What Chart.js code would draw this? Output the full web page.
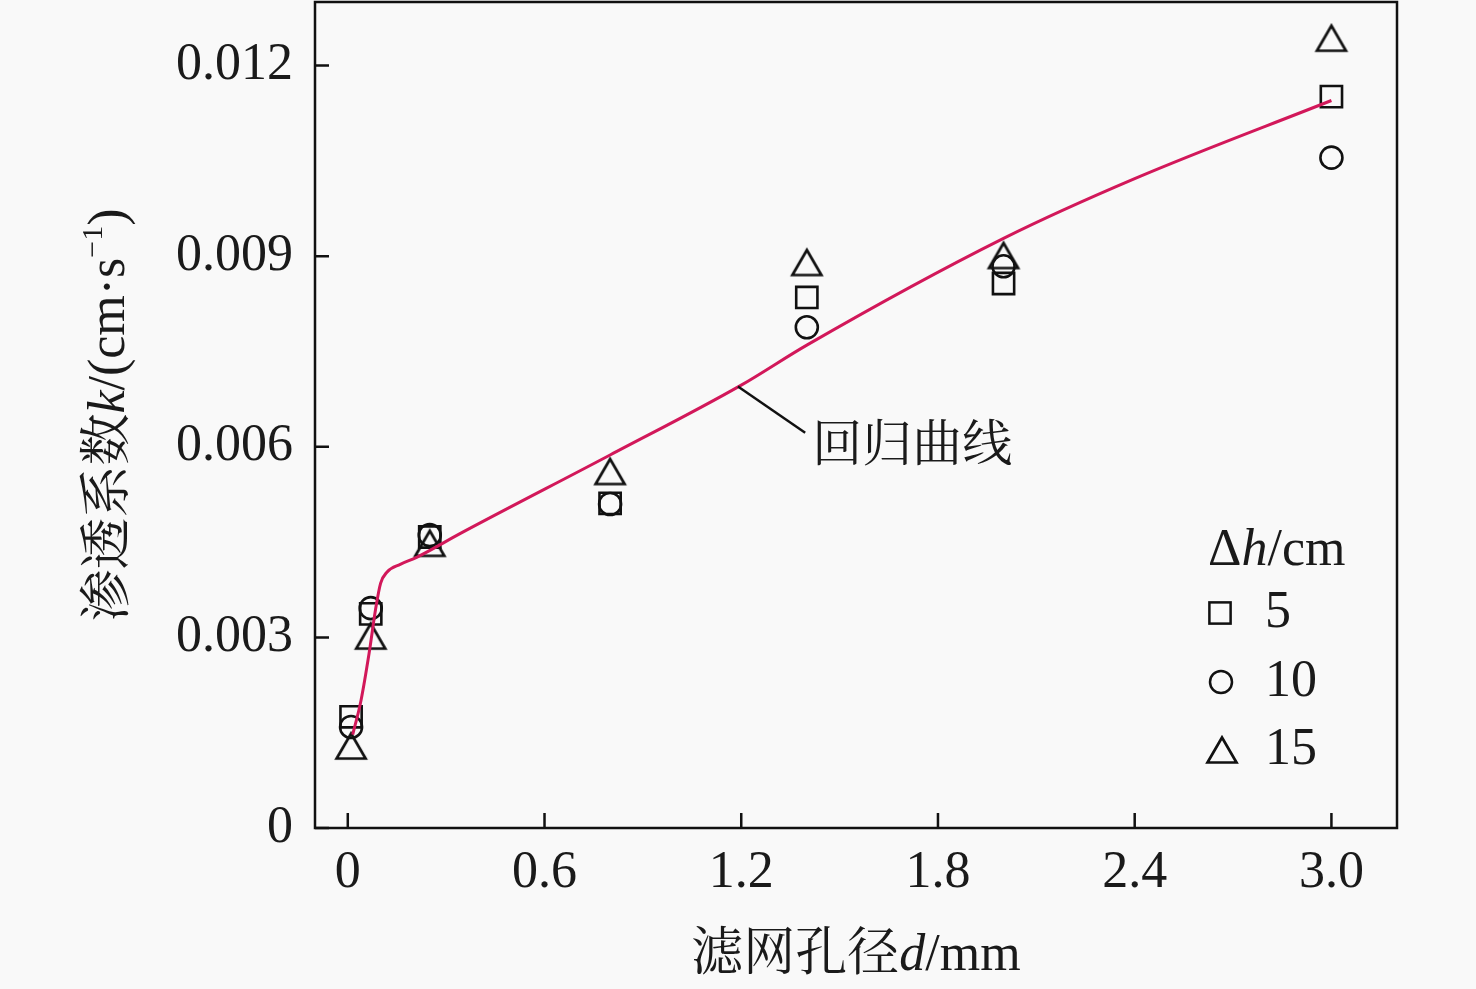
<!DOCTYPE html>
<html><head><meta charset="utf-8">
<script src="https://cdn.jsdelivr.net/npm/chart.js@4.4.1/dist/chart.umd.min.js"></script>
<style>html,body{margin:0;padding:0;background:#f9f9f9;}#wrap{width:1476px;height:989px;}</style>
</head><body><div id="wrap"><canvas id="c" width="1476" height="989"></canvas></div>
<script>
// ---- data ----
const filterD = [0.01, 0.07, 0.25, 0.8, 1.4, 2.0, 3.0];
const k5  = [0.00175, 0.00337, 0.00458, 0.00511, 0.00835, 0.00857, 0.01151];
const k10 = [0.00159, 0.00346, 0.00461, 0.00510, 0.00788, 0.00884, 0.01055];
const k15 = [0.00129, 0.00302, 0.00448, 0.00561, 0.00890, 0.00901, 0.01243];
const fitX = [0.015, 0.04, 0.065, 0.085, 0.10, 0.12, 0.16, 0.21, 0.345, 0.8, 1.2, 1.4, 2.0, 2.4, 3.0];
const fitY = [0.00147, 0.00200, 0.00275, 0.00345, 0.00385, 0.00403, 0.00415, 0.00426, 0.00464, 0.00587, 0.00697, 0.00760, 0.00928, 0.01022, 0.01145];
const xTicks = [0, 0.6, 1.2, 1.8, 2.4, 3.0];
const xTickLabels = ['0', '0.6', '1.2', '1.8', '2.4', '3.0'];
const yTicks = [0, 0.003, 0.006, 0.009, 0.012];
const yTickLabels = ['0', '0.003', '0.006', '0.009', '0.012'];
const seriesNames = ['5', '10', '15'];
const fitLabel = '回归曲线';
const annotAnchor = [1.19, 0.00695];
const annotEnd = [1.395, 0.00622];

const SERIF = '"Liberation Serif","Times New Roman",serif';
const CJK = '"Noto Serif CJK SC","Noto Sans CJK SC",sans-serif';
const FS = 52;
const TXT = '#1a1a1a';

function triCanvas() {
  const c = document.createElement('canvas');
  c.width = 40; c.height = 36;
  const g = c.getContext('2d');
  const w = 29, h = 25, cx = 20, cy = 18;
  g.strokeStyle = '#111'; g.lineWidth = 2.7; g.lineJoin = 'miter';
  g.beginPath();
  g.moveTo(cx, cy - h / 2); g.lineTo(cx + w / 2, cy + h / 2); g.lineTo(cx - w / 2, cy + h / 2); g.closePath();
  g.stroke();
  return c;
}
const TRI = triCanvas();

const pts = arr => filterD.map((x, i) => ({ x, y: arr[i] }));

function drawSegs(ctx, segs, x, y, align) {
  let total = 0;
  segs.forEach(s => { ctx.font = s.f; s.w = ctx.measureText(s.t).width; total += s.w; });
  let cx = align === 'center' ? x - total / 2 : x;
  ctx.textAlign = 'left';
  segs.forEach(s => { ctx.font = s.f; ctx.fillText(s.t, cx, y + (s.dy || 0)); cx += s.w; });
}

const deco = {
  id: 'deco',
  afterDraw(chart) {
    const { ctx, chartArea: a, scales: { x, y } } = chart;
    ctx.save();
    ctx.strokeStyle = '#111'; ctx.lineWidth = 2.5;
    ctx.strokeRect(a.left, a.top, a.right - a.left, a.bottom - a.top);
    ctx.beginPath();
    xTicks.forEach(v => { const px = x.getPixelForValue(v); ctx.moveTo(px, a.bottom); ctx.lineTo(px, a.bottom - 15); });
    yTicks.forEach(v => { const py = y.getPixelForValue(v); ctx.moveTo(a.left, py); ctx.lineTo(a.left + 14, py); });
    ctx.stroke();

    ctx.fillStyle = TXT; ctx.textBaseline = 'alphabetic';
    // x title
    drawSegs(ctx, [
      { t: '滤网孔径', f: `${FS}px ${CJK}` },
      { t: 'd', f: `italic ${FS}px ${SERIF}` },
      { t: '/mm', f: `${FS}px ${SERIF}` }
    ], (a.left + a.right) / 2, 970, 'center');
    // y title
    ctx.save();
    ctx.translate(124, (a.top + a.bottom) / 2);
    ctx.rotate(-Math.PI / 2);
    drawSegs(ctx, [
      { t: '渗透系数', f: `${FS}px ${CJK}` },
      { t: 'k', f: `italic ${FS}px ${SERIF}` },
      { t: '/(cm·s', f: `${FS}px ${SERIF}` },
      { t: '−1', f: `30px ${SERIF}`, dy: -22 },
      { t: ')', f: `${FS}px ${SERIF}` }
    ], 0, 0, 'center');
    ctx.restore();

    // annotation
    ctx.lineWidth = 2.5;
    ctx.beginPath();
    ctx.moveTo(x.getPixelForValue(annotAnchor[0]), y.getPixelForValue(annotAnchor[1]));
    ctx.lineTo(x.getPixelForValue(annotEnd[0]), y.getPixelForValue(annotEnd[1]));
    ctx.stroke();
    ctx.textBaseline = 'middle';
    ctx.font = `50px ${CJK}`;
    ctx.fillText(fitLabel, x.getPixelForValue(annotEnd[0]) + 7, y.getPixelForValue(annotEnd[1]) + 9);

    // legend
    ctx.textBaseline = 'alphabetic';
    const lx = a.right - 189;
    drawSegs(ctx, [
      { t: 'Δ', f: `${FS}px ${SERIF}` },
      { t: 'h', f: `italic ${FS}px ${SERIF}` },
      { t: '/cm', f: `${FS}px ${SERIF}` }
    ], lx, 565, 'left');
    const rowY = [613, 682, 750];
    ctx.font = `${FS}px ${SERIF}`;
    seriesNames.forEach((n, i) => {
      const ds = chart.data.datasets[i + 1];
      const st = ds.pointStyle;
      ctx.strokeStyle = '#111'; ctx.lineWidth = 2.5;
      if (st === 'rect') {
        const s = ds.pointRadius * Math.SQRT1_2;
        ctx.strokeRect(lx + 12 - s, rowY[i] - s, 2 * s, 2 * s);
      } else if (st === 'circle') {
        ctx.beginPath(); ctx.arc(lx + 13, rowY[i], ds.pointRadius, 0, Math.PI * 2); ctx.stroke();
      } else {
        ctx.drawImage(st, lx + 14 - st.width / 2, rowY[i] - st.height / 2);
      }
      ctx.fillText(n, lx + 57, rowY[i] + 14);
    });
    ctx.restore();
  }
};

new Chart(document.getElementById('c'), {
  type: 'scatter',
  data: {
    datasets: [
      { label: fitLabel, type: 'line', data: fitX.map((x, i) => ({ x, y: fitY[i] })),
        borderColor: '#d2185a', borderWidth: 3, pointRadius: 0, fill: false,
        cubicInterpolationMode: 'monotone' },
      { label: seriesNames[0], data: pts(k5), pointStyle: 'rect', pointRadius: 15,
        borderColor: '#111', backgroundColor: 'rgba(0,0,0,0)', borderWidth: 2.6 },
      { label: seriesNames[1], data: pts(k10), pointStyle: 'circle', pointRadius: 11,
        borderColor: '#111', backgroundColor: 'rgba(0,0,0,0)', borderWidth: 2.6 },
      { label: seriesNames[2], data: pts(k15), pointStyle: TRI, pointRadius: 17,
        borderColor: '#111', backgroundColor: 'rgba(0,0,0,0)', borderWidth: 2.6 }
    ]
  },
  options: {
    responsive: false, animation: false, devicePixelRatio: 1,
    layout: { autoPadding: false, padding: { left: 0, right: 79, top: 2, bottom: 0 } },
    plugins: { legend: { display: false }, tooltip: { enabled: false } },
    scales: {
      x: { type: 'linear', min: -0.1, max: 3.2,
        afterFit: s => { s.height = 161; s.paddingLeft = 0; s.paddingRight = 0; },
        afterBuildTicks: s => { s.ticks = xTicks.map(v => ({ value: v })); },
        grid: { display: false, drawTicks: false }, border: { display: false },
        ticks: { padding: 14, color: TXT, font: { family: SERIF, size: FS },
          callback: v => { const i = xTicks.findIndex(t => Math.abs(t - v) < 1e-9); return i >= 0 ? xTickLabels[i] : ''; } } },
      y: { type: 'linear', min: 0, max: 0.013,
        afterFit: s => { s.width = 315; s.paddingTop = 0; s.paddingBottom = 0; },
        afterBuildTicks: s => { s.ticks = yTicks.map(v => ({ value: v })); },
        grid: { display: false, drawTicks: false }, border: { display: false },
        ticks: { padding: 22, color: TXT, font: { family: SERIF, size: FS },
          callback: v => { const i = yTicks.findIndex(t => Math.abs(t - v) < 1e-12); return i >= 0 ? yTickLabels[i] : ''; } } }
    }
  },
  plugins: [deco]
});
</script></body></html>
